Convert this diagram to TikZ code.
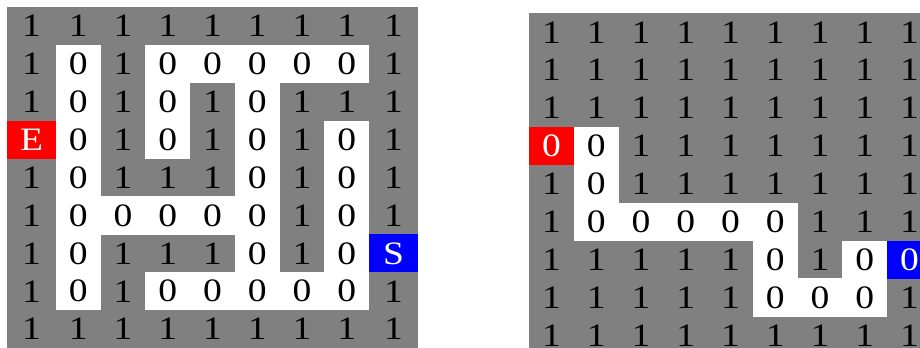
\documentclass[tikz,border=0pt]{standalone}
\usepackage{fontspec}
\setmainfont{Liberation Serif}[FakeStretch=1.15]
\definecolor{wallgray}{HTML}{808080}
\newcommand\mazefont{\fontsize{24.5}{29}\selectfont}

\tikzset{
  cell/.style={inner sep=0pt, minimum width=33.8pt, minimum height=28.6pt},
  wall/.style={inner sep=0pt},
  passage/.style={cell, fill=white},
  entry/.style={cell, fill=red, text=white},
  goal/.style={cell, fill=blue, text=white}
}

\begin{document}
\begin{tikzpicture}[x=0.75pt, y=-0.75pt, font=\mazefont]
  \clip (0,0) rectangle (920,347);

  % left maze: E = exit, S = start
  \fill[wallgray] (7,7) rectangle (418,348.1);
  \foreach \line [count=\r from 0] in {
      {1,1,1,1,1,1,1,1,1},
      {1,0,1,0,0,0,0,0,1},
      {1,0,1,0,1,0,1,1,1},
      {E,0,1,0,1,0,1,0,1},
      {1,0,1,1,1,0,1,0,1},
      {1,0,0,0,0,0,1,0,1},
      {1,0,1,1,1,0,1,0,S},
      {1,0,1,0,0,0,0,0,1},
      {1,1,1,1,1,1,1,1,1}}
    \foreach \v [count=\c from 0] in \line {
      \pgfmathsetmacro\cx{ifthenelse(\c==0,31.5,ifthenelse(\c==8,393.6,56+(\c-0.5)*44.75))}
      \pgfmathsetmacro\cy{7+(\r+0.5)*37.9}
      \if\v0 \node[passage] (L-\r-\c) at (\cx,\cy) {0};\fi
      \if\v1 \node[wall] (L-\r-\c) at (\cx,\cy) {1};\fi
    }
  \node[entry, minimum width=36.75pt] (L-E) at (31.5,139.65) {E};
  \node[goal, minimum width=36.75pt] (L-S) at (393.6,253.35) {S};

  % right maze: the path found from start to exit
  \fill[wallgray] (529,13.3) rectangle (932,354.4);
  \foreach \line [count=\r from 0] in {
      {1,1,1,1,1,1,1,1,1},
      {1,1,1,1,1,1,1,1,1},
      {1,1,1,1,1,1,1,1,1},
      {E,0,1,1,1,1,1,1,1},
      {1,0,1,1,1,1,1,1,1},
      {1,0,0,0,0,0,1,1,1},
      {1,1,1,1,1,0,1,0,S},
      {1,1,1,1,1,0,0,0,1},
      {1,1,1,1,1,1,1,1,1}}
    \foreach \v [count=\c from 0] in \line {
      \pgfmathsetmacro\cx{ifthenelse(\c==0,551.5,574+(\c-0.5)*44.75)}
      \pgfmathsetmacro\cy{13.3+(\r+0.5)*37.9}
      \if\v0 \node[passage] (R-\r-\c) at (\cx,\cy) {0};\fi
      \if\v1 \node[wall] (R-\r-\c) at (\cx,\cy) {1};\fi
    }
  \node[entry, minimum width=33.75pt] (R-E) at (551.5,145.95) {0};
  \node[goal] (R-S) at (909.6,259.65) {0};
\end{tikzpicture}
\end{document}
